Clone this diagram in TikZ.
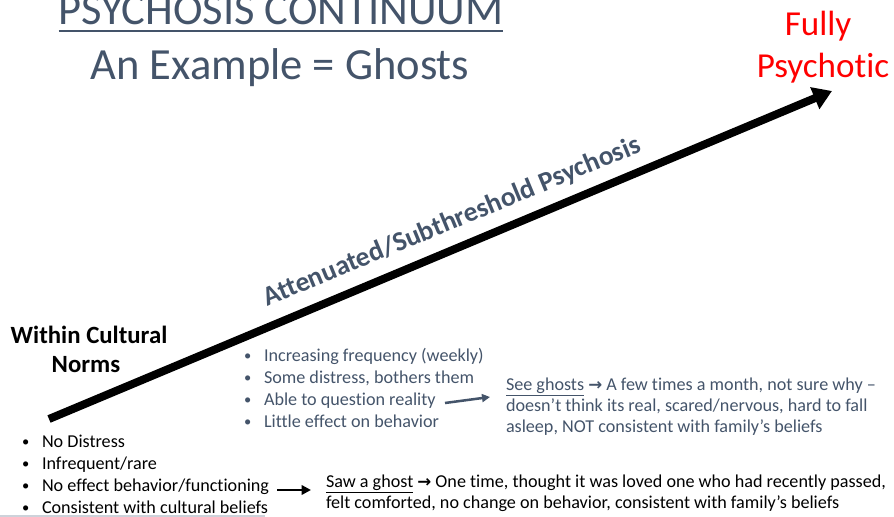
\documentclass[tikz,border=0pt]{standalone}
\usepackage{fontspec}
\setmainfont{Carlito}[Ligatures={NoCommon}]
\newfontfamily\symfont{DejaVu Sans}
\usetikzlibrary{arrows.meta}
\definecolor{slate}{RGB}{68,84,106}
\definecolor{edgegray}{RGB}{205,210,218}
\newcommand{\goesto}{{\symfont\bfseries\fontsize{12.5}{15}\selectfont →}}
\newcommand{\dotmark}{\makebox[15pt][l]{\raisebox{0.3pt}{\scalebox{0.8}{•}}}}

\begin{document}
\begin{tikzpicture}[x=0.75pt,y=-0.75pt,
  every node/.style={inner sep=0pt, outer sep=0pt},
  heading/.style={anchor=base, text=slate, font=\fontsize{33.4}{40}\selectfont},
  endlabel/.style={anchor=base, text=red, font=\fontsize{26.3}{31.5}\selectfont},
  listtxt/.style={anchor=base west, font=\fontsize{13.6}{16}\selectfont},
  normtxt/.style={anchor=base, font=\bfseries\fontsize{18.6}{22}\selectfont},
  bulleted/.style={listtxt, execute at begin node={\dotmark}}]
\useasboundingbox (0,0) rectangle (894,517);

% titles
\node[heading] (title) at (281,25) {PSYCHOSIS CONTINUUM};
\draw[slate, line width=1.5pt] ([yshift=-4.6pt]title.base west) -- ([yshift=-4.6pt]title.base east);
\node[heading] (subtitle) at (280,80) {An Example = Ghosts};

% end of the continuum
\node[endlabel] (fully) at (818,36) {Fully};
\node[endlabel] (psychotic) at (823,78) {Psychotic};

% the continuum arrow
\coordinate (low) at (49,419);
\coordinate (high) at (832,91);
\draw[line width=6pt, -{Triangle[length=14pt,width=17pt]}] (low) -- (high);

\node[rotate=22.5, text=slate, font=\bfseries\fontsize{20.6}{24}\selectfont] (atten) at (452,222)
  {Attenuated/Subthreshold Psychosis};

% start of the continuum
\node[normtxt] (within) at (89,343) {Within Cultural};
\node[normtxt] (norms) at (86,372) {Norms};

% attenuated features
\foreach \t [count=\i] in {Increasing frequency (weekly), {Some distress, bothers them},
    Able to question reality, Little effect on behavior}
  \node[bulleted, text=slate] (mid\i) at (244,{339+22*\i}) {\t};

% cultural norm features
\foreach \t [count=\i] in {No Distress, Infrequent/rare,
    No effect behavior/functioning, Consistent with cultural beliefs}
  \node[bulleted] (norm\i) at (22,{425+22*\i}) {\t};

% attenuated example
\node[listtxt, text=slate] (see1) at (506,390)
  {\underline{See ghosts} \goesto{} A few times a month, not sure why –};
\node[listtxt, text=slate] (see2) at (506,411)
  {doesn’t think its real, scared/nervous, hard to fall};
\node[listtxt, text=slate] (see3) at (506,432)
  {asleep, NOT consistent with family’s beliefs};

% cultural norm example
\node[listtxt] (saw1) at (326,487)
  {\underline{Saw a ghost} \goesto{} One time, thought it was loved one who had recently passed,};
\node[listtxt] (saw2) at (326,508)
  {felt comforted, no change on behavior, consistent with family’s beliefs};

% pointers to the examples
\coordinate (qa) at (445,403);
\coordinate (qb) at (490,397);
\draw[slate, line width=1.9pt, -{Triangle[length=6pt,width=6pt]}] (qa) -- (qb);
\coordinate (fa) at (277,490);
\coordinate (fb) at (311,490);
\draw[line width=1.9pt, -{Triangle[length=7pt,width=7pt]}] (fa) -- (fb);

% bottom edge
\draw[edgegray, line width=1.2pt] (0,516) -- (265,516);
\end{tikzpicture}
\end{document}
